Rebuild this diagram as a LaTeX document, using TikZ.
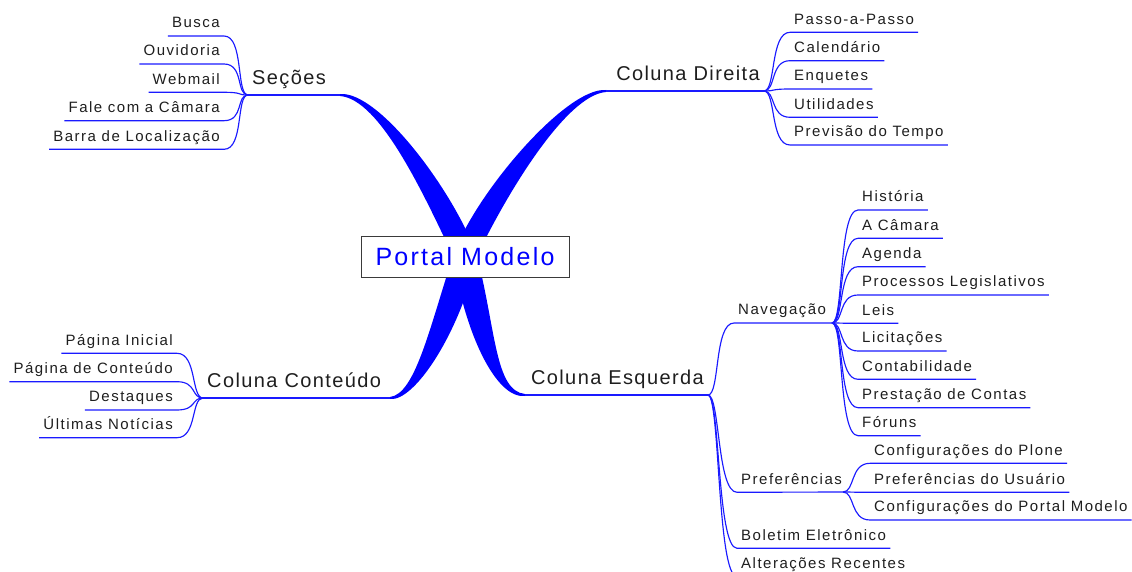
\documentclass[tikz,border=0pt]{standalone}
\usepackage{fontspec}
\setmainfont{Liberation Sans}
\newfontfamily\mmleaffont[LetterSpace=10]{Liberation Sans}
\newfontfamily\mmmainfont[LetterSpace=7]{Liberation Sans}
\newfontfamily\mmrootfont[LetterSpace=9]{Liberation Sans}
\definecolor{txt}{HTML}{1E1E1E}
\definecolor{edgeblue}{HTML}{0000FF}
\definecolor{lineblue}{HTML}{1A1AFF}
\definecolor{boxgray}{HTML}{3A3A3A}
\newcommand\leafL[4]{%
  \node[leaf, anchor=south east] (#1) at #3 {#4};
  \draw[thinedge] (#2) .. controls +(-12,0) and +(20,0) .. (#1.south east) -- (#1.south west);}
\newcommand\leafR[4]{%
  \node[leaf, anchor=south west] (#1) at #3 {#4};
  \draw[thinedge] (#2) .. controls +(12,0) and +(-20,0) .. (#1.south west) -- (#1.south east);}
\begin{document}
\begin{tikzpicture}[x=1pt,y=-1pt,
  thinedge/.style={draw=lineblue, line width=1.15pt},
  thick branch/.style={fill=edgeblue, draw=none},
  leaf/.style={font=\mmleaffont\fontsize{15}{18}\selectfont, text=txt, inner xsep=4pt, inner ysep=0pt, text depth=8pt},
  mmmain/.style={font=\mmmainfont\fontsize{20}{24}\selectfont, text=txt, inner xsep=4pt, inner ysep=0pt, text depth=10pt},
  rootbox/.style={draw=boxgray, fill=white, line width=1pt, minimum width=208pt, minimum height=41pt, inner sep=0pt,
    font=\mmrootfont\fontsize{25}{30}\selectfont, text=edgeblue}
]
\useasboundingbox (0,0) rectangle (1132,572);

% coordinates
\coordinate (c) at (465,256);
\coordinate (fS) at (248,95);
\coordinate (fD) at (764,91);
\coordinate (fC) at (203,398);
\coordinate (fE) at (708,395);
\coordinate (fN) at (832,323);
\coordinate (fP) at (843,492);
\coordinate (eS) at (340,95);
\coordinate (eD) at (606,91);
\coordinate (eC) at (390,398);
\coordinate (eE) at (525,395);

% thick tapered branches from the root
\fill[thick branch] (453,256) .. controls (424,195) and (380,99) .. (340,96)
   -- (340,94) .. controls (380,91) and (456,195) .. (477,256) -- cycle;
\fill[thick branch] (453,256) .. controls (474,195) and (566,87) .. (606,90)
   -- (606,92) .. controls (566,95) and (506,195) .. (477,256) -- cycle;
\fill[thick branch] (453,256) .. controls (429,330) and (415,394) .. (390,397)
   -- (390,399) .. controls (415,402) and (461,330) .. (477,256) -- cycle;
\fill[thick branch] (453,256) .. controls (464,330) and (495,399) .. (525,396)
   -- (525,394) .. controls (495,391) and (496,330) .. (477,256) -- cycle;

% main nodes
\node[mmmain, anchor=south west] (secoes) at (fS) {Seções};
\draw[thinedge] (secoes.south west) -- (eS);
\node[mmmain, anchor=south east] (direita) at (fD) {Coluna Direita};
\draw[thinedge] (eD) -- (direita.south east);
\node[mmmain, anchor=south west] (conteudo) at (fC) {Coluna Conteúdo};
\draw[thinedge] (conteudo.south west) -- (eC);
\node[mmmain, anchor=south east] (esquerda) at (fE) {Coluna Esquerda};
\draw[thinedge] (eE) -- (esquerda.south east);

% Seções
\leafL{busca}{fS}{(224,36)}{Busca}
\leafL{ouvidoria}{fS}{(224,64)}{Ouvidoria}
\leafL{webmail}{fS}{(224,92.3)}{Webmail}
\leafL{fale}{fS}{(224,120.7)}{Fale com a Câmara}
\leafL{barra}{fS}{(224,149.3)}{Barra de Localização}

% Coluna Direita
\leafR{passo}{fD}{(790,32.3)}{Passo-a-Passo}
\leafR{calendario}{fD}{(790,60.7)}{Calendário}
\leafR{enquetes}{fD}{(790,89)}{Enquetes}
\leafR{utilidades}{fD}{(790,117.3)}{Utilidades}
\leafR{previsao}{fD}{(790,145)}{Previsão do Tempo}

% Coluna Conteúdo
\leafL{pinicial}{fC}{(177,353.3)}{Página Inicial}
\leafL{pconteudo}{fC}{(177,381.7)}{Página de Conteúdo}
\leafL{destaques}{fC}{(177,410)}{Destaques}
\leafL{ultimas}{fC}{(177,437.7)}{Últimas Notícias}

% Coluna Esquerda
\node[leaf, anchor=south west] (nav) at (734,323) {Navegação};
\draw[thinedge] (fE) .. controls +(12,0) and +(-20,0) .. (nav.south west) -- (fN);
\node[leaf, anchor=south west] (pref) at (737,492.3) {Preferências};
\draw[thinedge] (fE) .. controls +(12,0) and +(-20,0) .. (pref.south west) -- (fP);
\leafR{boletim}{fE}{(737,548.3)}{Boletim Eletrônico}
\leafR{alteracoes}{fE}{(737,576.6)}{Alterações Recentes}

% Navegação
\leafR{historia}{fN}{(858,210)}{História}
\leafR{camara}{fN}{(858,238.3)}{A Câmara}
\leafR{agenda}{fN}{(858,266.7)}{Agenda}
\leafR{processos}{fN}{(858,295)}{Processos Legislativos}
\leafR{leis}{fN}{(858,323.3)}{Leis}
\leafR{licitacoes}{fN}{(858,351)}{Licitações}
\leafR{contabilidade}{fN}{(858,379.3)}{Contabilidade}
\leafR{prestacao}{fN}{(858,407.7)}{Prestação de Contas}
\leafR{foruns}{fN}{(858,435.7)}{Fóruns}

% Preferências
\leafR{plone}{fP}{(870,463.3)}{Configurações do Plone}
\leafR{usuario}{fP}{(870,492.3)}{Preferências do Usuário}
\leafR{portalcfg}{fP}{(870,520)}{Configurações do Portal Modelo}

% root
\node[rootbox] (root) at (465,256.5) {Portal Modelo};
\end{tikzpicture}
\end{document}
